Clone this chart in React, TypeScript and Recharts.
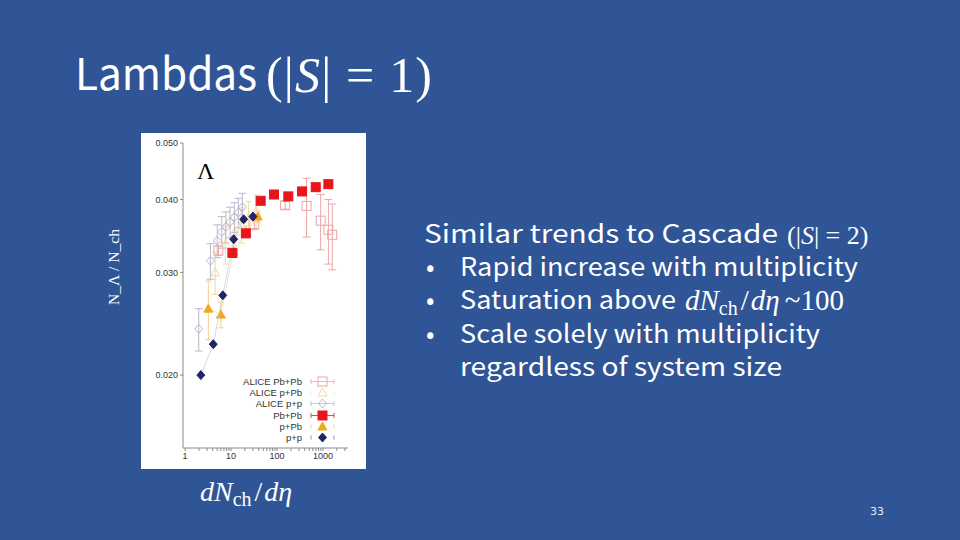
import { ScatterChart, Scatter, XAxis, YAxis, ErrorBar, Legend } from 'recharts'

// multiplicity (dNch/deta) and Lambda yield ratio
const ppX = [2.2, 4.1, 6.6, 11.4, 18.8, 30]
const ppY = [0.02, 0.0226, 0.0274, 0.0342, 0.037, 0.0374]

const pPbX = [3.2, 6.0, 11.2, 21, 38]
const pPbY = [0.026, 0.0254, 0.0326, 0.0352, 0.0374]
const pPbErr = [0.003, 0.0013, 0.0008, 0.0008, 0.0008]

const PbPbX = [10.7, 21, 44, 86, 176, 350, 695, 1310]
const PbPbY = [0.0324, 0.035, 0.0398, 0.0408, 0.0405, 0.0413, 0.042, 0.0425]

const alicePpX = [1.98, 3.56, 5.0, 6.3, 7.7, 9.5, 11.8, 14.4, 17.6]
const alicePpY = [0.024, 0.0314, 0.034, 0.0352, 0.0359, 0.0366, 0.0373, 0.038, 0.0388]
const alicePpErr = [0.002, 0.0022, 0.0022, 0.0022, 0.0022, 0.0022, 0.0022, 0.0022, 0.0022]

const alicePPbX = [4.5, 7.5, 12, 17, 24, 35]
const alicePPbY = [0.03, 0.0335, 0.0352, 0.0362, 0.0372, 0.0382]
const alicePPbErr = [0.0025, 0.0025, 0.0025, 0.0025, 0.0025, 0.0025]

const alicePbPbX = [5.3, 32, 150, 440, 890, 1310, 1590]
const alicePbPbY = [0.0327, 0.0363, 0.0391, 0.039, 0.0368, 0.0355, 0.0348]
const alicePbPbErr = [0.0006, 0.0008, 0.0006, 0.0045, 0.004, 0.0045, 0.0045]

const xTicks = [1, 10, 100, 1000]
const xMinorTicks = [2, 3, 4, 5, 6, 7, 8, 9, 20, 30, 40, 50, 60, 70, 80, 90, 200, 300, 400, 500, 600, 700, 800, 900, 2000, 3000]
const yTicks = [0.02, 0.03, 0.04, 0.05]

const legendNames = ['ALICE Pb+Pb', 'ALICE p+Pb', 'ALICE p+p', 'Pb+Pb', 'p+Pb', 'p+p']

const RED = '#e8161c'
const ORANGE = '#f2a71d'
const NAVY = '#1f2566'
const ALICE_PP = '#b9bacb'
const ALICE_PPB = '#f3d9a6'
const ALICE_PBPB = '#f0a3a3'

const toPoints = (xs: number[], ys: number[], errs?: number[]) =>
  xs.map((x, i) => ({ x, y: ys[i], err: errs ? errs[i] : 0 }))

const square = (color: string, filled: boolean) => (p: any) =>
  <rect x={p.cx - 4.5} y={p.cy - 4.5} width={9} height={9} fill={filled ? color : 'none'} stroke={color} strokeWidth={1} />

const triangle = (color: string, filled: boolean) => (p: any) =>
  <path d={`M${p.cx},${p.cy - 4.5} L${p.cx + 4.5},${p.cy + 3.5} L${p.cx - 4.5},${p.cy + 3.5} Z`} fill={filled ? color : 'none'} stroke={color} strokeWidth={1} />

const diamond = (color: string, filled: boolean) => (p: any) =>
  <path d={`M${p.cx},${p.cy - 4.5} L${p.cx + 4},${p.cy} L${p.cx},${p.cy + 4.5} L${p.cx - 4},${p.cy} Z`} fill={filled ? color : 'none'} stroke={color} strokeWidth={1} />

const markers: Record<string, { shape: (p: any) => any; color: string; bar: boolean }> = {
  'ALICE Pb+Pb': { shape: square(ALICE_PBPB, false), color: ALICE_PBPB, bar: true },
  'ALICE p+Pb': { shape: triangle(ALICE_PPB, false), color: ALICE_PPB, bar: false },
  'ALICE p+p': { shape: diamond(ALICE_PP, false), color: ALICE_PP, bar: true },
  'Pb+Pb': { shape: square(RED, true), color: RED, bar: true },
  'p+Pb': { shape: triangle(ORANGE, true), color: ORANGE, bar: false },
  'p+p': { shape: diamond(NAVY, true), color: NAVY, bar: false },
}

function ChartLegend() {
  return (
    <div style={{ width: 145, fontFamily: 'Liberation Sans, Arial, sans-serif', fontSize: 9.5, color: '#333' }}>
      {legendNames.map((name) => {
        const m = markers[name]
        return (
          <div key={name} style={{ display: 'flex', justifyContent: 'flex-end', alignItems: 'center', height: 11.2 }}>
            <span style={{ lineHeight: '11px' }}>{name}</span>
            <svg width={43} height={11} style={{ marginLeft: 1 }}>
              {m.bar ? (
                <g stroke={m.color} strokeWidth={1} opacity={0.8}>
                  <line x1={8} y1={5.5} x2={31} y2={5.5} />
                  <line x1={8} y1={3} x2={8} y2={8} />
                  <line x1={31} y1={3} x2={31} y2={8} />
                </g>
              ) : (
                <g stroke={m.color} strokeWidth={1} opacity={0.5}>
                  <line x1={8} y1={3.5} x2={8} y2={7.5} />
                  <line x1={31} y1={3.5} x2={31} y2={7.5} />
                </g>
              )}
              {m.shape({ cx: 19.5, cy: 5.5 })}
            </svg>
          </div>
        )
      })}
    </div>
  )
}

const axisStroke = '#8a8a8a'
const tickStyle = { fontSize: 9, fill: '#333', fontFamily: 'Liberation Sans, Arial, sans-serif' }
const allXTicks = [...xTicks, ...xMinorTicks].sort((a, b) => a - b)

export default function App() {
  const serif = 'Liberation Serif, DejaVu Serif, serif'
  const sans = '"Noto Sans CJK JP", "Noto Sans", sans-serif'
  const stretch = { lengthAdjust: 'spacingAndGlyphs' as const }
  return (
    <div style={{ position: 'absolute', left: 0, top: 0, width: 960, height: 540, background: '#2f5597', overflow: 'hidden' }}>
      <svg width={960} height={540} style={{ position: 'absolute', left: 0, top: 0 }}>
        {/* title */}
        <text x={75} y={90} fill="#fff" fontSize={44} fontFamily={sans} textLength={182} {...stretch}>
          Lambdas
        </text>
        <text x={266} y={92} fill="#fff" fontSize={50} fontFamily={serif} textLength={166} lengthAdjust="spacing">
          (|<tspan fontStyle="italic">S</tspan>| = 1)
        </text>

        {/* bullet text */}
        <g fill="#fff" fontSize={25} fontFamily={sans}>
          <text x={424} y={243} textLength={354} {...stretch}>Similar trends to Cascade</text>
          <text x={787} y={244} fontFamily={serif} fontSize={26}>
            (|<tspan fontStyle="italic">S</tspan>| = 2)
          </text>
          <text x={426} y={276}>•</text>
          <text x={460} y={276} textLength={398} {...stretch}>Rapid increase with multiplicity</text>
          <text x={426} y={309}>•</text>
          <text x={460} y={309} textLength={216} {...stretch}>Saturation above</text>
          <text x={685} y={310} fontFamily={serif} fontSize={29}>
            <tspan fontStyle="italic">dN</tspan>
            <tspan fontSize={20} dy={5}>ch</tspan>
            <tspan dy={-5} dx={3}>/</tspan>
            <tspan fontStyle="italic" dx={2}>dη</tspan>
            <tspan dx={5}>~100</tspan>
          </text>
          <text x={426} y={343}>•</text>
          <text x={460} y={343} textLength={360} {...stretch}>Scale solely with multiplicity</text>
          <text x={460} y={376} textLength={322} {...stretch}>regardless of system size</text>
        </g>

        {/* x axis title */}
        <text x={200} y={501} fill="#fff" fontSize={28} fontFamily={serif}>
          <tspan fontStyle="italic">dN</tspan>
          <tspan fontSize={20} dy={5}>ch</tspan>
          <tspan dy={-5} dx={3}>/</tspan>
          <tspan fontStyle="italic" dx={2}>dη</tspan>
        </text>

        {/* y axis title */}
        <text
          x={0}
          y={0}
          transform="translate(119,267) rotate(-90)"
          textAnchor="middle"
          fill="#fff"
          fontSize={15}
          fontFamily={serif}
          textLength={76}
          lengthAdjust="spacingAndGlyphs"
        >
          N_Λ / N_ch
        </text>

        <text x={877} y={515} textAnchor="middle" fill="#e6ebf5" fontSize={11} fontFamily="DejaVu Sans, sans-serif">
          33
        </text>
      </svg>

      <div style={{ position: 'absolute', left: 141, top: 133, width: 225, height: 336, background: '#fff' }}>
        <ScatterChart width={225} height={336} margin={{ top: 10, right: 18, bottom: 3, left: 4 }}>
          <XAxis
            dataKey="x"
            type="number"
            scale="log"
            domain={[0.9, 3500]}
            allowDataOverflow
            ticks={allXTicks}
            interval={0}
            tickFormatter={(v: number) => (xTicks.includes(v) ? String(v) : '')}
            tick={tickStyle}
            tickSize={3}
            height={18}
            stroke={axisStroke}
          />
          <XAxis
            xAxisId="top"
            orientation="top"
            type="number"
            scale="log"
            domain={[0.9, 3500]}
            allowDataOverflow
            ticks={allXTicks}
            interval={0}
            tickFormatter={() => ''}
            tickSize={3}
            mirror
            height={0}
            stroke={axisStroke}
          />
          <YAxis
            dataKey="y"
            type="number"
            scale="log"
            domain={[0.015, 0.05]}
            allowDataOverflow
            ticks={yTicks}
            interval={0}
            tickFormatter={(v: number) => v.toFixed(3)}
            tick={tickStyle}
            tickSize={3}
            width={38}
            stroke={axisStroke}
          />
          <YAxis
            yAxisId="right"
            orientation="right"
            type="number"
            scale="log"
            domain={[0.015, 0.05]}
            allowDataOverflow
            ticks={yTicks}
            interval={0}
            tickFormatter={() => ''}
            tickSize={4}
            mirror
            width={0}
            stroke={axisStroke}
          />

          <Scatter name="ALICE Pb+Pb" data={toPoints(alicePbPbX, alicePbPbY, alicePbPbErr)} shape={markers['ALICE Pb+Pb'].shape} isAnimationActive={false}>
            <ErrorBar dataKey="err" direction="y" stroke={ALICE_PBPB} width={4} strokeWidth={1} isAnimationActive={false} />
          </Scatter>
          <Scatter name="ALICE p+Pb" data={toPoints(alicePPbX, alicePPbY, alicePPbErr)} shape={markers['ALICE p+Pb'].shape} isAnimationActive={false}>
            <ErrorBar dataKey="err" direction="y" stroke={ALICE_PPB} width={3} strokeWidth={1} isAnimationActive={false} />
          </Scatter>
          <Scatter name="ALICE p+p" data={toPoints(alicePpX, alicePpY, alicePpErr)} shape={markers['ALICE p+p'].shape} isAnimationActive={false}>
            <ErrorBar dataKey="err" direction="y" stroke={ALICE_PP} width={4} strokeWidth={1} isAnimationActive={false} />
          </Scatter>
          <Scatter
            name="p+Pb"
            data={toPoints(pPbX, pPbY, pPbErr)}
            shape={markers['p+Pb'].shape}
            line={{ stroke: '#f8dca8', strokeWidth: 0.8 }}
            isAnimationActive={false}
          >
            <ErrorBar dataKey="err" direction="y" stroke="#f6d08c" width={3} strokeWidth={1} isAnimationActive={false} />
          </Scatter>
          <Scatter name="p+p" data={toPoints(ppX, ppY)} shape={markers['p+p'].shape} line={{ stroke: '#c9cde6', strokeWidth: 0.8 }} isAnimationActive={false} />
          <Scatter name="Pb+Pb" data={toPoints(PbPbX, PbPbY)} shape={markers['Pb+Pb'].shape} isAnimationActive={false} />

          <Legend
            layout="vertical"
            align="center"
            verticalAlign="middle"
            content={() => <ChartLegend />}
            wrapperStyle={{ position: 'absolute', left: 60, top: 243, width: 145 }}
          />
        </ScatterChart>
        <span
          style={{
            position: 'absolute',
            left: 56,
            top: 25,
            fontFamily: 'Liberation Serif, DejaVu Serif, serif',
            fontSize: 24,
            lineHeight: '26px',
            color: '#000',
          }}
        >
          Λ
        </span>
      </div>
    </div>
  )
}
